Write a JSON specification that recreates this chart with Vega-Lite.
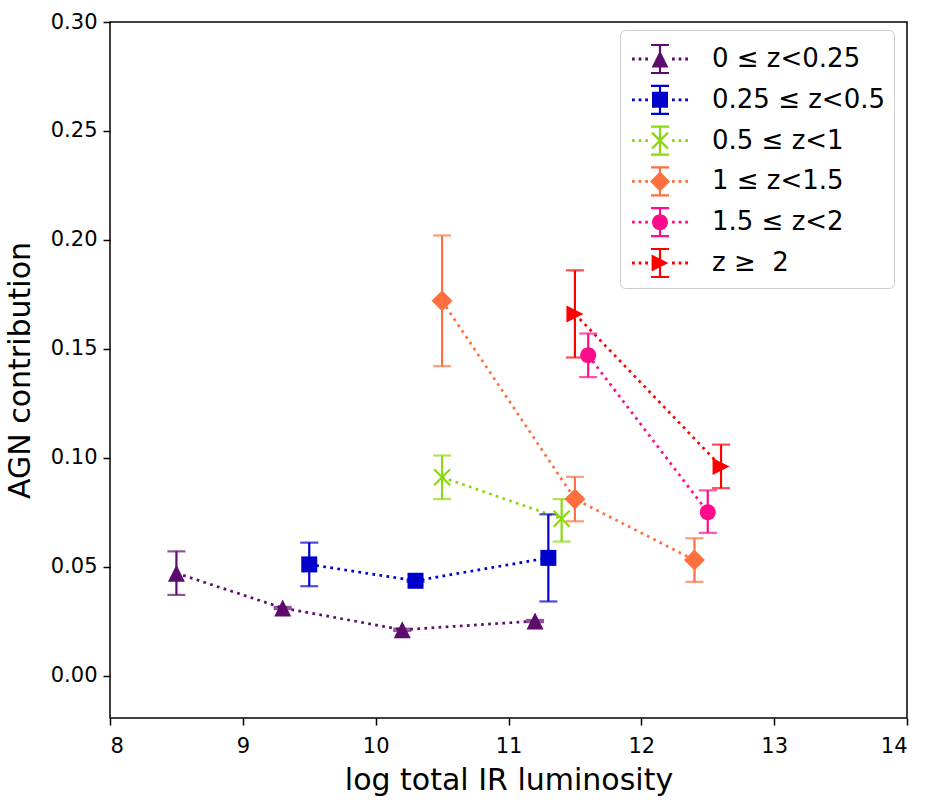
{
  "$schema": "https://vega.github.io/schema/vega-lite/v6.json",
  "autosize": "none",
  "width": 797,
  "height": 696,
  "padding": {"left": 110, "top": 22, "right": 27, "bottom": 84},
  "background": "white",
  "config": {
    "font": "DejaVu Sans",
    "view": {"stroke": "black", "strokeWidth": 1.5},
    "axis": {
      "grid": false,
      "domain": false,
      "tickColor": "black",
      "tickWidth": 1.5,
      "tickSize": 7,
      "labelColor": "black",
      "labelFont": "DejaVu Sans",
      "labelFontSize": 21,
      "titleFont": "DejaVu Sans",
      "titleFontSize": 30,
      "titleFontWeight": "normal",
      "titleColor": "black"
    },
    "legend": {"symbolOpacity": 1, "symbolStrokeWidth": 0}
  },
  "data": {
    "values": [
      {"series": "0 ≤ z<0.25", "x": 8.5, "y": 0.047, "lo": 0.037, "hi": 0.057},
      {"series": "0 ≤ z<0.25", "x": 9.3, "y": 0.031, "lo": 0.0305, "hi": 0.0315},
      {"series": "0 ≤ z<0.25", "x": 10.2, "y": 0.021, "lo": 0.0205, "hi": 0.0215},
      {"series": "0 ≤ z<0.25", "x": 11.2, "y": 0.025, "lo": 0.0245, "hi": 0.0255},
      {"series": "0.25 ≤ z<0.5", "x": 9.5, "y": 0.051, "lo": 0.041, "hi": 0.061},
      {"series": "0.25 ≤ z<0.5", "x": 10.3, "y": 0.0435, "lo": 0.043, "hi": 0.044},
      {"series": "0.25 ≤ z<0.5", "x": 11.3, "y": 0.054, "lo": 0.034, "hi": 0.074},
      {"series": "0.5 ≤ z<1", "x": 10.5, "y": 0.091, "lo": 0.081, "hi": 0.101},
      {"series": "0.5 ≤ z<1", "x": 11.4, "y": 0.072, "lo": 0.0615, "hi": 0.081},
      {"series": "1 ≤ z<1.5", "x": 10.5, "y": 0.172, "lo": 0.142, "hi": 0.202},
      {"series": "1 ≤ z<1.5", "x": 11.5, "y": 0.081, "lo": 0.0708, "hi": 0.0912},
      {"series": "1 ≤ z<1.5", "x": 12.4, "y": 0.053, "lo": 0.043, "hi": 0.063},
      {"series": "1.5 ≤ z<2", "x": 11.6, "y": 0.147, "lo": 0.137, "hi": 0.157},
      {"series": "1.5 ≤ z<2", "x": 12.5, "y": 0.075, "lo": 0.0655, "hi": 0.085},
      {"series": "z ≥ \u00a02", "x": 11.5, "y": 0.166, "lo": 0.146, "hi": 0.186},
      {"series": "z ≥ \u00a02", "x": 12.6, "y": 0.096, "lo": 0.086, "hi": 0.106}
    ]
  },
  "encoding": {
    "x": {"field": "x", "type": "quantitative", "scale": {"domain": [8, 14], "nice": false, "zero": false},
          "axis": {"values": [8, 9, 10, 11, 12, 13, 14], "format": "d", "title": "log total IR luminosity", "labelPadding": 10, "titlePadding": 9}},
    "color": {
      "field": "series", "type": "nominal",
      "scale": {
        "domain": ["0 ≤ z<0.25", "0.25 ≤ z<0.5", "0.5 ≤ z<1", "1 ≤ z<1.5", "1.5 ≤ z<2", "z ≥ \u00a02"],
        "range": ["#5E0B6E", "#0000CD", "#8BD80E", "#FF6F3F", "#FF0B8C", "#FF0000"]
      },
      "legend": {
        "title": null,
        "orient": "none",
        "legendX": 510,
        "legendY": 8,
        "padding": 9,
        "fillColor": "white",
        "strokeColor": "#cccccc",
        "cornerRadius": 5,
        "symbolSize": 1600,
        "symbolStrokeWidth": 0,
        "symbolOpacity": 1,
        "symbolOffset": 11,
        "labelOffset": 32,
        "labelFont": "DejaVu Sans",
        "labelFontSize": 26,
        "labelColor": "black",
        "labelLimit": 400,
        "rowPadding": 4.8,
        "encode": {
          "symbols": {
            "update": {
              "shape": {"signal": "datum.value == '0 ≤ z<0.25' ? 'M-1.4,-0.07H-1.26V0.07H-1.4Z M-1.07,-0.07H-0.93V0.07H-1.07Z M-0.74,-0.07H-0.6V0.07H-0.74Z M0.6,-0.07H0.74V0.07H0.6Z M0.93,-0.07H1.07V0.07H0.93Z M1.26,-0.07H1.4V0.07H1.26Z M-0.055,-0.7H0.055V0.7H-0.055Z M-0.45,-0.755H0.45V-0.645H-0.45Z M-0.45,0.645H0.45V0.755H-0.45Z M0,-0.42L0.42,0.42L-0.42,0.42Z' : datum.value == '0.25 ≤ z<0.5' ? 'M-1.4,-0.07H-1.26V0.07H-1.4Z M-1.07,-0.07H-0.93V0.07H-1.07Z M-0.74,-0.07H-0.6V0.07H-0.74Z M0.6,-0.07H0.74V0.07H0.6Z M0.93,-0.07H1.07V0.07H0.93Z M1.26,-0.07H1.4V0.07H1.26Z M-0.055,-0.7H0.055V0.7H-0.055Z M-0.45,-0.755H0.45V-0.645H-0.45Z M-0.45,0.645H0.45V0.755H-0.45Z M-0.4,-0.4H0.4V0.4H-0.4Z' : datum.value == '0.5 ≤ z<1' ? 'M-1.4,-0.07H-1.26V0.07H-1.4Z M-1.07,-0.07H-0.93V0.07H-1.07Z M-0.74,-0.07H-0.6V0.07H-0.74Z M0.6,-0.07H0.74V0.07H0.6Z M0.93,-0.07H1.07V0.07H0.93Z M1.26,-0.07H1.4V0.07H1.26Z M-0.055,-0.7H0.055V0.7H-0.055Z M-0.45,-0.755H0.45V-0.645H-0.45Z M-0.45,0.645H0.45V0.755H-0.45Z M-0.361,-0.439L0.439,0.361L0.361,0.439L-0.439,-0.361Z M0.439,-0.361L-0.361,0.439L-0.439,0.361L0.361,-0.439Z' : datum.value == '1 ≤ z<1.5' ? 'M-1.4,-0.07H-1.26V0.07H-1.4Z M-1.07,-0.07H-0.93V0.07H-1.07Z M-0.74,-0.07H-0.6V0.07H-0.74Z M0.6,-0.07H0.74V0.07H0.6Z M0.93,-0.07H1.07V0.07H0.93Z M1.26,-0.07H1.4V0.07H1.26Z M-0.055,-0.7H0.055V0.7H-0.055Z M-0.45,-0.755H0.45V-0.645H-0.45Z M-0.45,0.645H0.45V0.755H-0.45Z M0,-0.5L0.5,0L0,0.5L-0.5,0Z' : datum.value == '1.5 ≤ z<2' ? 'M-1.4,-0.07H-1.26V0.07H-1.4Z M-1.07,-0.07H-0.93V0.07H-1.07Z M-0.74,-0.07H-0.6V0.07H-0.74Z M0.6,-0.07H0.74V0.07H0.6Z M0.93,-0.07H1.07V0.07H0.93Z M1.26,-0.07H1.4V0.07H1.26Z M-0.055,-0.7H0.055V0.7H-0.055Z M-0.45,-0.755H0.45V-0.645H-0.45Z M-0.45,0.645H0.45V0.755H-0.45Z M-0.4,0A0.4,0.4,0,1,1,0.4,0A0.4,0.4,0,1,1,-0.4,0Z' : 'M-1.4,-0.07H-1.26V0.07H-1.4Z M-1.07,-0.07H-0.93V0.07H-1.07Z M-0.74,-0.07H-0.6V0.07H-0.74Z M0.6,-0.07H0.74V0.07H0.6Z M0.93,-0.07H1.07V0.07H0.93Z M1.26,-0.07H1.4V0.07H1.26Z M-0.055,-0.7H0.055V0.7H-0.055Z M-0.45,-0.755H0.45V-0.645H-0.45Z M-0.45,0.645H0.45V0.755H-0.45Z M0.42,0L-0.42,0.42L-0.42,-0.42Z'"},
              "fill": {"scale": "color", "field": "value"},
              "stroke": {"value": "transparent"},
              "strokeWidth": {"value": 0},
              "opacity": {"value": 1}
            }
          }
        }
      }
    }
  },
  "layer": [
    {
      "mark": {"type": "line", "strokeDash": [2.7, 4.4], "strokeWidth": 2.7, "strokeCap": "butt"},
      "encoding": {
        "y": {"field": "y", "type": "quantitative", "scale": {"domain": [-0.0195, 0.30], "nice": false, "zero": false},
              "axis": {"values": [0, 0.05, 0.1, 0.15, 0.2, 0.25, 0.3], "format": ".2f", "title": "AGN contribution", "labelPadding": 6, "titlePadding": 15}},
        "order": {"field": "x", "type": "quantitative"}
      }
    },
    {
      "mark": {"type": "rule", "strokeWidth": 2.2},
      "encoding": {
        "y": {"field": "lo", "type": "quantitative"},
        "y2": {"field": "hi"}
      }
    },
    {
      "mark": {"type": "tick", "orient": "horizontal", "size": 18, "thickness": 2.2},
      "encoding": {"y": {"field": "lo", "type": "quantitative"}}
    },
    {
      "mark": {"type": "tick", "orient": "horizontal", "size": 18, "thickness": 2.2},
      "encoding": {"y": {"field": "hi", "type": "quantitative"}}
    },
    {
      "transform": [{"filter": "datum.series == '0 ≤ z<0.25'"}],
      "mark": {"type": "point", "filled": true, "opacity": 1, "size": 400, "strokeWidth": 0, "shape": "M0,-0.85L0.85,0.85L-0.85,0.85Z"},
      "encoding": {"y": {"field": "y", "type": "quantitative"}}
    },
    {
      "transform": [{"filter": "datum.series == '0.25 ≤ z<0.5'"}],
      "mark": {"type": "point", "filled": true, "opacity": 1, "size": 400, "strokeWidth": 0, "shape": "M-0.8,-0.8H0.8V0.8H-0.8Z"},
      "encoding": {"y": {"field": "y", "type": "quantitative"}}
    },
    {
      "transform": [{"filter": "datum.series == '0.5 ≤ z<1'"}],
      "mark": {"type": "point", "filled": true, "opacity": 1, "size": 400, "strokeWidth": 0, "shape": "M-0.722,-0.878L0.878,0.722L0.722,0.878L-0.878,-0.722Z M0.878,-0.722L-0.722,0.878L-0.878,0.722L0.722,-0.878Z"},
      "encoding": {"y": {"field": "y", "type": "quantitative"}}
    },
    {
      "transform": [{"filter": "datum.series == '1 ≤ z<1.5'"}],
      "mark": {"type": "point", "filled": true, "opacity": 1, "size": 400, "strokeWidth": 0, "shape": "M0,-1.05L1.05,0L0,1.05L-1.05,0Z"},
      "encoding": {"y": {"field": "y", "type": "quantitative"}}
    },
    {
      "transform": [{"filter": "datum.series == '1.5 ≤ z<2'"}],
      "mark": {"type": "point", "filled": true, "opacity": 1, "size": 400, "strokeWidth": 0, "shape": "M-0.8,0A0.8,0.8,0,1,1,0.8,0A0.8,0.8,0,1,1,-0.8,0Z"},
      "encoding": {"y": {"field": "y", "type": "quantitative"}}
    },
    {
      "transform": [{"filter": "datum.series == 'z ≥ \u00a02'"}],
      "mark": {"type": "point", "filled": true, "opacity": 1, "size": 400, "strokeWidth": 0, "shape": "M0.85,0L-0.85,0.85L-0.85,-0.85Z"},
      "encoding": {"y": {"field": "y", "type": "quantitative"}}
    }
  ]
}
